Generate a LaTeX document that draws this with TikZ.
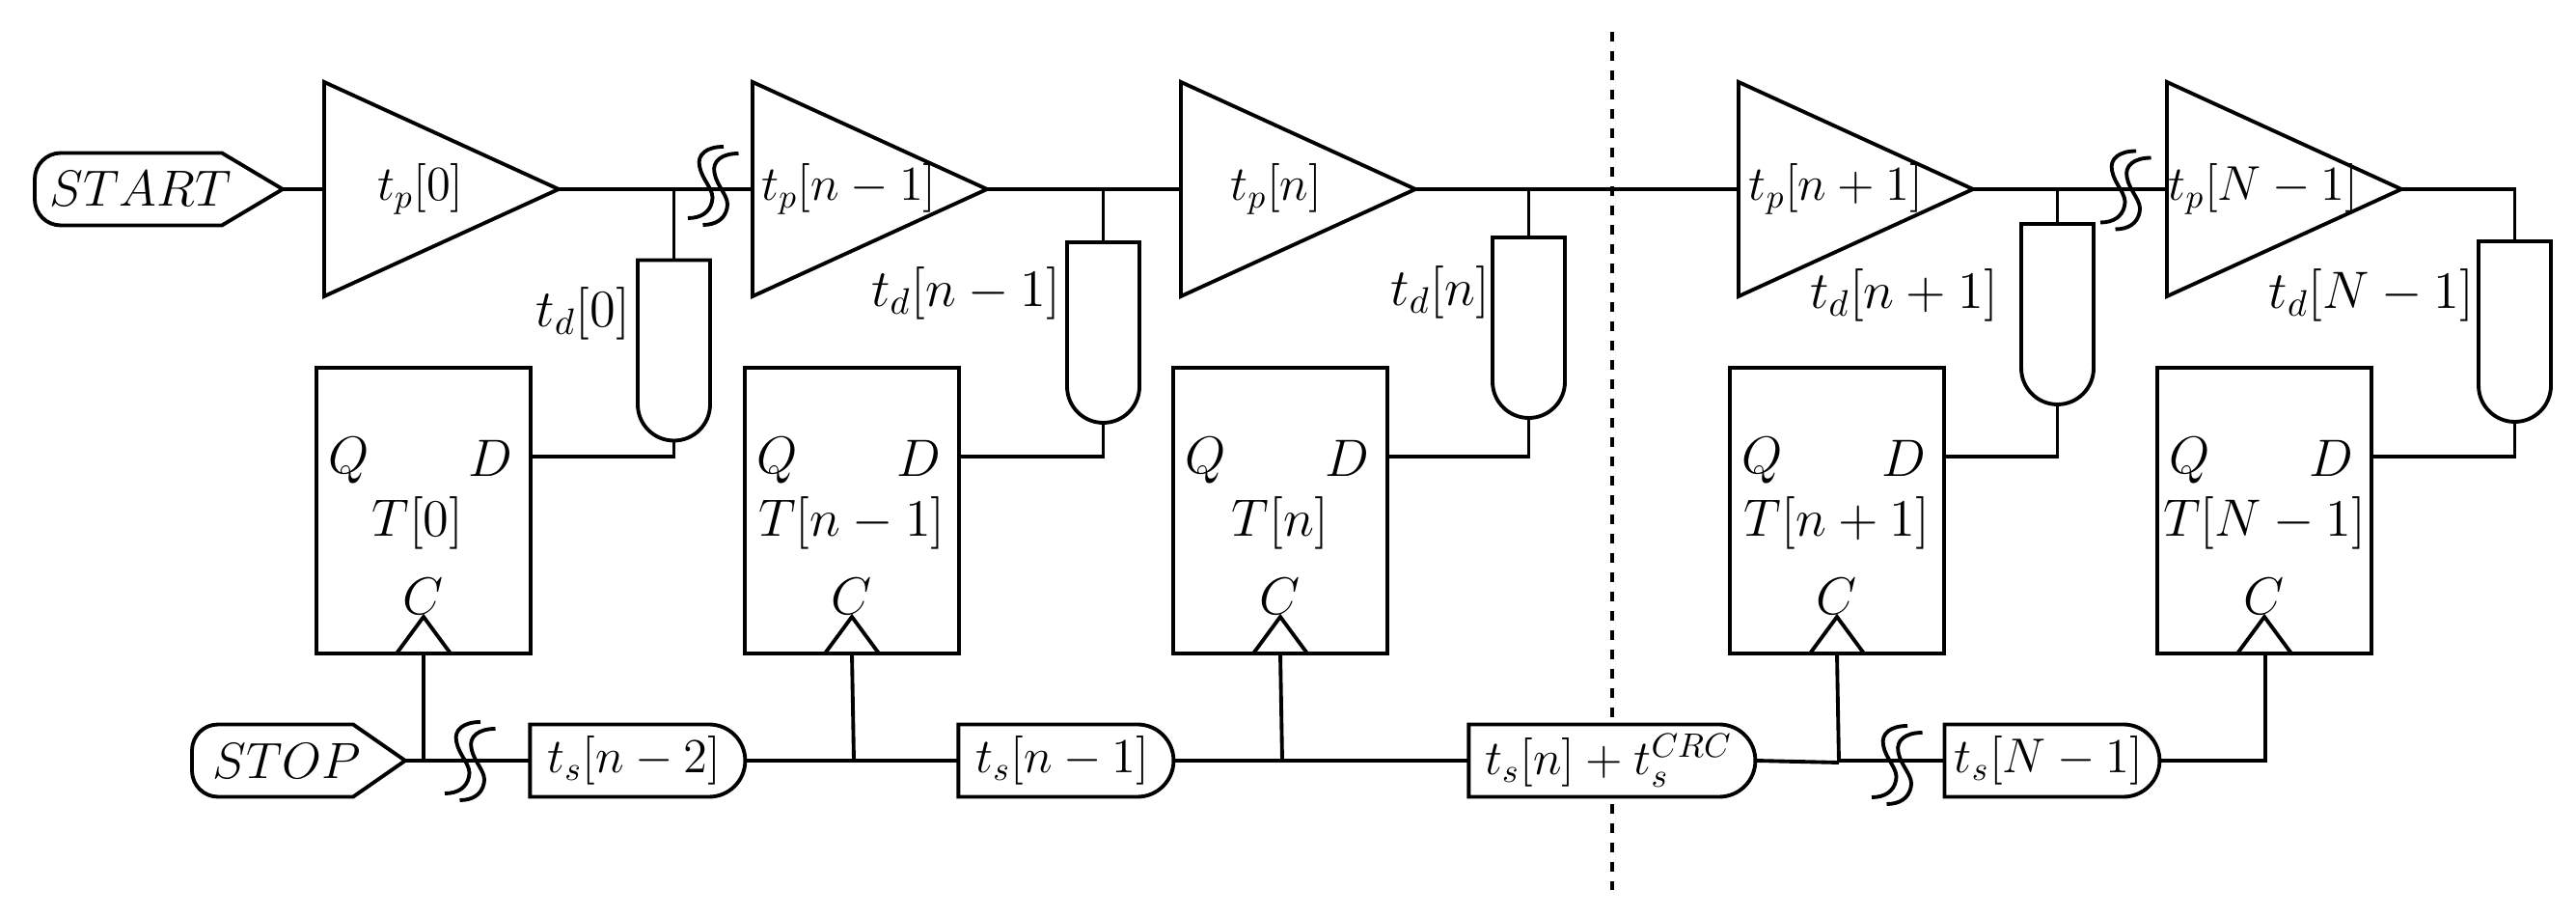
\RequirePackage{fix-cm}
\documentclass[tikz,border=0pt]{standalone}
\usepackage{amsmath,amssymb}
\usepackage{xcolor}
\usepackage{tikz}
\usetikzlibrary{positioning, calc, shapes.geometric, shapes.misc}

\begin{document}
\begin{tikzpicture}[
    wire/.style={line width=1.1pt},
    every node/.style={font=\Large, inner sep=0pt, outer sep=0pt},
    big/.style={font=\fontsize{15.5}{18}\selectfont},
    buf/.style={draw, wire, isosceles triangle, isosceles triangle stretches, minimum width=2.22cm, minimum height=2.43cm},
    dly/.style={draw, wire, rounded rectangle, rounded rectangle west arc=none, rotate=-90, minimum width=1.87cm, minimum height=0.75cm},
    ff/.style={draw, wire, minimum width=2.22cm, minimum height=2.96cm},
    sam/.style={draw, wire, fill=white, rounded rectangle, rounded rectangle west arc=none, minimum width=2.23cm, minimum height=0.75cm},
    port/.style={font=\fontsize{15}{18}\selectfont, minimum height=0.75cm},
    brk/.pic={
      \draw[wire] (.105,.40) .. controls (-.07,.40) and (-.17,.32) .. (-.145,.20) .. controls (-.12,.05) and (.02,-.05) .. (-.015,-.17) .. controls (-.04,-.28) and (-.13,-.34) .. (-.265,-.34);
      \draw[wire, shift={(.155,-.07)}] (.105,.40) .. controls (-.07,.40) and (-.17,.32) .. (-.145,.20) .. controls (-.12,.05) and (.02,-.05) .. (-.015,-.17) .. controls (-.04,-.28) and (-.13,-.34) .. (-.265,-.34);
    }
]
  \useasboundingbox (0,0) rectangle (26.7,9.5);

  % CRC boundary
  \coordinate (cuttop) at (16.71,9.17);
  \coordinate (cutbot) at (16.71,0.28);
  \draw[wire, dash pattern=on 0.1cm off 0.1cm] (cuttop) -- (cutbot);

  % Start port
  \node[port, minimum width=2.57cm] (start) at (1.645,7.54) {$START$\kern0.38cm};
  \draw[wire] (start.east) -- ([xshift=-0.63cm]start.north east) [rounded corners=0.27cm] -- (start.north west) -- (start.south west) [sharp corners] -- ([xshift=-0.63cm]start.south east) -- cycle;

  % Buffers
  \node[buf, anchor=lower side] (b0) at (3.36,7.54) {};
  \node[buf, right=2.01cm of b0.apex, anchor=lower side] (b1) {};
  \node[buf, right=2.01cm of b1.apex, anchor=lower side] (b2) {};
  \node[buf, right=3.35cm of b2.apex, anchor=lower side] (b3) {};
  \node[buf, right=2.01cm of b3.apex, anchor=lower side] (b4) {};

  \node (lp0) at ([xshift=1cm]b0.lower side) {$t_p[0]$};
  \node (lp1) at ([xshift=1cm]b1.lower side) {$t_p[n-1]$};
  \node (lp2) at ([xshift=0.99cm]b2.lower side) {$t_p[n]$};
  \node (lp3) at ([xshift=1.01cm]b3.lower side) {$t_p[n+1]$};
  \node (lp4) at ([xshift=1cm]b4.lower side) {$t_p[N-1]$};

  % Registers
  \node[ff] (ff0) at (4.39,4.21) {};
  \node[ff, right=2.22cm of ff0] (ff1) {};
  \node[ff, right=2.22cm of ff1] (ff2) {};
  \node[ff, right=3.55cm of ff2] (ff3) {};
  \node[ff, right=2.21cm of ff3] (ff4) {};

  \node[big] (q0) at ([xshift=-0.77cm,yshift=0.52cm]ff0.center) {$Q$};
  \node[big] (q1) at ([xshift=-0.77cm,yshift=0.52cm]ff1.center) {$Q$};
  \node[big] (q2) at ([xshift=-0.77cm,yshift=0.52cm]ff2.center) {$Q$};
  \node[big] (q3) at ([xshift=-0.77cm,yshift=0.52cm]ff3.center) {$Q$};
  \node[big] (q4) at ([xshift=-0.77cm,yshift=0.52cm]ff4.center) {$Q$};

  \node[big] (in0) at ([xshift=0.69cm,yshift=0.54cm]ff0.center) {$D$};
  \node[big] (in1) at ([xshift=0.69cm,yshift=0.54cm]ff1.center) {$D$};
  \node[big] (in2) at ([xshift=0.69cm,yshift=0.54cm]ff2.center) {$D$};
  \node[big] (in3) at ([xshift=0.69cm,yshift=0.54cm]ff3.center) {$D$};
  \node[big] (in4) at ([xshift=0.69cm,yshift=0.54cm]ff4.center) {$D$};

  \node[big] (tt0) at ([xshift=-0.06cm,yshift=-0.13cm]ff0.center) {$T[0]$};
  \node[big] (tt1) at ([yshift=-0.13cm]ff1.center) {$T[n-1]$};
  \node[big] (tt2) at ([yshift=-0.13cm]ff2.center) {$T[n]$};
  \node[big] (tt3) at ([yshift=-0.13cm]ff3.center) {$T[n+1]$};
  \node[big] (tt4) at ([yshift=-0.13cm]ff4.center) {$T[N-1]$};

  \node[big] (c0) at ([yshift=-0.89cm]ff0.center) {$C$};
  \node[big] (c1) at ([yshift=-0.89cm]ff1.center) {$C$};
  \node[big] (c2) at ([yshift=-0.89cm]ff2.center) {$C$};
  \node[big] (c3) at ([yshift=-0.89cm]ff3.center) {$C$};
  \node[big] (c4) at ([yshift=-0.89cm]ff4.center) {$C$};

  % Clock marks
  \draw[wire] ([xshift=-0.28cm]ff0.south) -- ([yshift=0.38cm]ff0.south) -- ([xshift=0.28cm]ff0.south);
  \draw[wire] ([xshift=-0.28cm]ff1.south) -- ([yshift=0.38cm]ff1.south) -- ([xshift=0.28cm]ff1.south);
  \draw[wire] ([xshift=-0.28cm]ff2.south) -- ([yshift=0.38cm]ff2.south) -- ([xshift=0.28cm]ff2.south);
  \draw[wire] ([xshift=-0.28cm]ff3.south) -- ([yshift=0.38cm]ff3.south) -- ([xshift=0.28cm]ff3.south);
  \draw[wire] ([xshift=-0.28cm]ff4.south) -- ([yshift=0.38cm]ff4.south) -- ([xshift=0.28cm]ff4.south);

  % Delay lines
  \node[dly] (d0) at (6.985,5.87) {};
  \node[dly] (d1) at (11.435,6.055) {};
  \node[dly] (d2) at (15.845,6.105) {};
  \node[dly] (d3) at (21.325,6.245) {};
  \node[dly] (d4) at (26.065,6.065) {};

  \node[big, left=0.08cm of d0.south, yshift=0.38cm] (ld0) {$t_d[0]$};
  \node[big, left=0.07cm of d1.south, yshift=0.41cm] (ld1) {$t_d[n-1]$};
  \node[big, left=0.03cm of d2.south, yshift=0.365cm] (ld2) {$t_d[n]$};
  \node[big, left=0.24cm of d3.south, yshift=0.195cm] (ld3) {$t_d[n+1]$};
  \node[big, left=0.05cm of d4.south, yshift=0.375cm] (ld4) {$t_d[N-1]$};

  % Top chain
  \draw[wire] (start.east) -- (b0.lower side);
  \draw[wire] (b0.apex) -- (b1.lower side);
  \draw[wire] (b1.apex) -- (b2.lower side);
  \draw[wire] (b2.apex) -- (b3.lower side);
  \draw[wire] (b3.apex) -- (b4.lower side);

  % Taps into the delay lines and registers
  \draw[wire] (d0.west |- b0.apex) -- (d0.west);
  \draw[wire] (d1.west |- b1.apex) -- (d1.west);
  \draw[wire] (d2.west |- b2.apex) -- (d2.west);
  \draw[wire] (d3.west |- b3.apex) -- (d3.west);
  \draw[wire] (b4.apex) -| (d4.west);

  \draw[wire] (d0.east) |- ([yshift=0.56cm]ff0.east);
  \draw[wire] (d1.east) |- ([yshift=0.56cm]ff1.east);
  \draw[wire] (d2.east) |- ([yshift=0.56cm]ff2.east);
  \draw[wire] (d3.east) |- ([yshift=0.56cm]ff3.east);
  \draw[wire] (d4.east) |- ([yshift=0.56cm]ff4.east);

  % Stop port
  \node[port, minimum width=2.21cm] (stop) at (3.095,1.62) {$STOP$\kern0.25cm};
  \draw[wire] (stop.east) -- ([xshift=-0.54cm]stop.north east) [rounded corners=0.27cm] -- (stop.north west) -- (stop.south west) [sharp corners] -- ([xshift=-0.54cm]stop.south east) -- cycle;

  % Sampling chain
  \node[sam] (s0) at (6.56,1.62) {\kern0.03cm$t_s[n-2]$};
  \node[sam, right=2.21cm of s0] (s1) {\kern0.03cm$t_s[n-1]$};
  \node[sam, minimum width=2.97cm, right=3.06cm of s1] (s2) {\kern0.05cm$t_s[n]+t_s^{CRC}$};
  \node[sam, right=1.96cm of s2] (s3) {\kern0.03cm$t_s[N-1]$};

  \coordinate (j3) at (19.06,1.60);

  \draw[wire] (stop.east) -- (s0.west);
  \draw[wire] (s0.east) -- (s1.west);
  \draw[wire] (s1.east) -- (s2.west);
  \draw[wire] (s2.east) -- (j3);
  \draw[wire] ([yshift=0.02cm]j3) -- (s3.west);

  % Clock feeds
  \draw[wire] (ff0.south) -- (ff0.south |- stop.east);
  \draw[wire] (ff1.south) -- ([xshift=0.02cm]ff1.south |- s0.east);
  \draw[wire] (ff2.south) -- ([xshift=0.02cm]ff2.south |- s1.east);
  \draw[wire] (ff3.south) -- (j3);
  \draw[wire] (ff4.south) -| ([xshift=0.01cm]ff4.south |- s3.east) -- (s3.east);

  % Breaks in the chains
  \pic at (7.395,7.58) {brk};
  \pic at (22.035,7.535) {brk};
  \pic at (4.875,1.62) {brk};
  \pic at (19.665,1.58) {brk};
\end{tikzpicture}
\end{document}
